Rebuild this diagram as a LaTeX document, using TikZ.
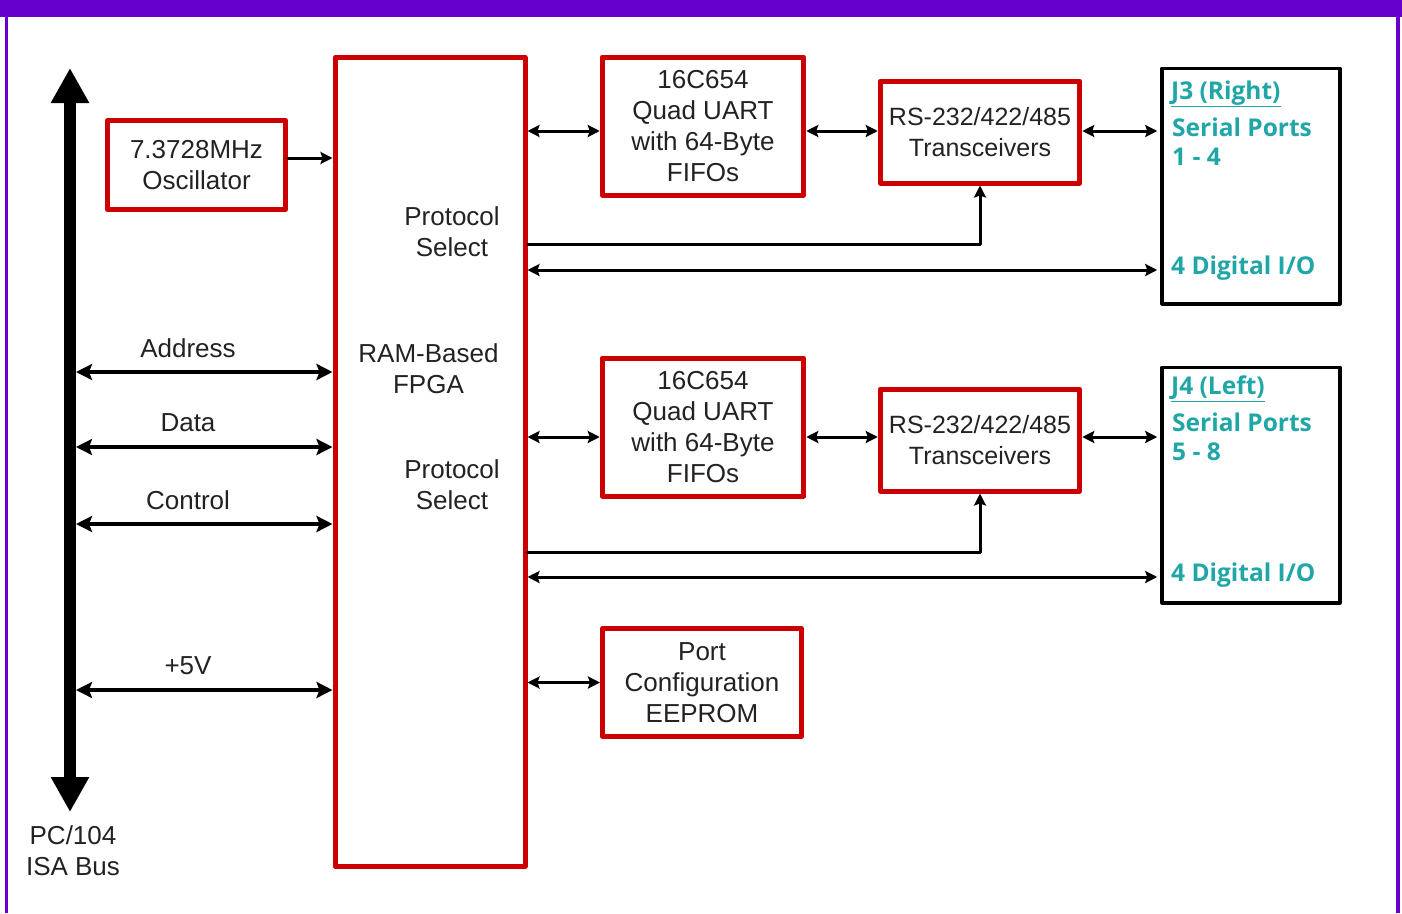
\documentclass[tikz,border=0pt]{standalone}
\usepackage{fontspec}
\setmainfont{Liberation Sans}
\newfontfamily\tealfont{Open Sans}
\usetikzlibrary{arrows.meta}
\definecolor{frameviolet}{HTML}{6600CC}
\definecolor{boxred}{HTML}{CC0000}
\definecolor{portteal}{HTML}{20A6A6}
\definecolor{inkgray}{HTML}{222222}
\tikzset{
	redbox/.style={draw=boxred, line width=5pt, inner sep=0pt, align=center},
	jackbox/.style={draw=black, line width=3.5pt, inner sep=0pt},
	porttext/.style={text=portteal, inner sep=0pt, anchor=west, font=\tealfont\bfseries\fontsize{24.5}{30}\selectfont},
	conn/.style={line width=3pt, {Stealth[length=12pt,width=12pt,inset=2pt]}-{Stealth[length=12pt,width=12pt,inset=2pt]}},
	busconn/.style={line width=4pt, {Stealth[length=16pt,width=16pt,inset=3pt]}-{Stealth[length=16pt,width=16pt,inset=3pt]}},
	selconn/.style={line width=3pt, -{Stealth[length=12pt,width=12pt,inset=2pt]}}
}
\begin{document}
\begin{tikzpicture}[x=1pt,y=-1pt,line cap=round,line join=round,text=inkgray,font=\fontsize{26}{31}\selectfont]
	\useasboundingbox (0,0) rectangle (1402,913);
	% frame
	\fill[frameviolet] (0,0) rectangle (1402,17);
	\draw[frameviolet,line width=3pt,line cap=butt] (6.5,17) -- (6.5,913);
	\draw[frameviolet,line width=4pt,line cap=butt] (1398,17) -- (1398,913);
	% ISA bus
	\coordinate (bustop) at (70,68);
	\coordinate (busbot) at (70,812);
	\draw[line width=12pt,line cap=butt,{Triangle[length=35pt,width=36pt]}-{Triangle[length=35pt,width=36pt]}] (bustop) -- (busbot);
	\node[align=center] (isabus) at (73,851) {PC/104\\ISA Bus};
	% blocks
	\node[redbox,minimum width=178pt,minimum height=89pt] (osc) at (196.5,165) {7.3728MHz\\Oscillator};
	\node[redbox,minimum width=190pt,minimum height=808.5pt] (fpga) at (430,461.75) {};
	\node[align=center] (fpganame) at (428.5,368.5) {RAM-Based\\FPGA};
	\node[align=center] (selnameA) at (452,232) {Protocol\\Select};
	\node[align=center] (selnameB) at (452,485) {Protocol\\Select};
	\node[redbox,minimum width=199pt,minimum height=108pt] (eeprom) at (702,682.5) {Port\\Configuration\\EEPROM};
	\draw[selconn] (osc.east |- 0,158) -- (fpga.west |- 0,158);
	\draw[conn] (fpga.east |- eeprom.west) -- (eeprom.west);
	% bus signals
	\foreach \y/\t in {372/Address,447/Data,524/Control,690/+5V}{
		\coordinate (sig\t) at (76,\y);
		\draw[busconn] (sig\t) -- (fpga.west |- sig\t);
		\node (lbl\t) at (188,\y-24) {\t};
	}
	% two serial channels
	\foreach \c/\yu/\ya/\yr/\yj/\yt/\ys/\yd/\jn/\pn in {A/126/131/132/186/91/244/270/{J3 (Right)}/{1 - 4},B/427/437/440/485/386/552/577/{J4 (Left)}/{5 - 8}}{
		\node[redbox,minimum width=201.5pt,minimum height=138pt] (uart\c) at (703,\yu) {16C654\\Quad UART\\with 64-Byte\\FIFOs};
		\node[redbox,minimum width=199.5pt,minimum height=102pt,font=\fontsize{25}{31}\selectfont] (xcvr\c) at (980,\yr) {RS-232/422/485\\Transceivers};
		\node[jackbox,minimum width=178pt,minimum height=235.5pt] (jack\c) at (1251,\yj) {};
		\node[porttext] (jname\c) at (1171,\yt+3) {\underline{\jn}};
		\node[porttext] (jser\c) at (1172,\yt+36) {Serial Ports};
		\node[porttext] (jnum\c) at (1172,\yt+66) {\pn};
		\node[porttext] (jdio\c) at (1171,\yd-2) {4 Digital I/O};
		\draw[conn] (fpga.east |- 0,\ya) -- (uart\c.west |- 0,\ya);
		\draw[conn] (uart\c.east |- 0,\ya) -- (xcvr\c.west |- 0,\ya);
		\draw[conn,shorten >=3pt] (xcvr\c.east |- 0,\ya) -- (jack\c.west |- 0,\ya);
		\draw[selconn] (fpga.east |- 0,\ys) -| (xcvr\c.south);
		\draw[conn,shorten >=3pt] (fpga.east |- 0,\yd) -- (jack\c.west |- 0,\yd);
	}
\end{tikzpicture}
\end{document}
